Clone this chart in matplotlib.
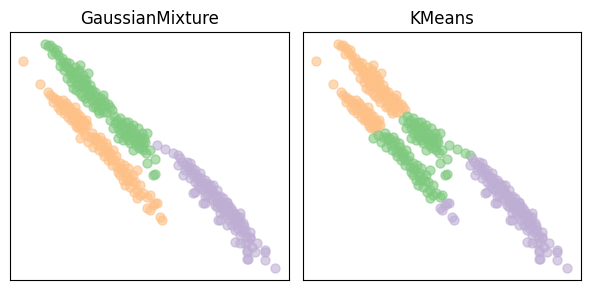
import numpy as np
import matplotlib
matplotlib.use("Agg")
import matplotlib.pyplot as plt

# point positions (x right, y down as in the image)
# each list is one piece of the data, split by which cluster each method gave it
green_gm_orange_km = [(45, 44), (48, 46), (50, 45), (53, 48), (52, 54), (57, 50), (58, 55), (62, 58),
                      (63, 63), (60, 66), (66, 62), (64, 70), (68, 68), (70, 74), (75, 67), (80, 65),
                      (78, 72), (73, 78), (77, 78), (83, 75), (88, 73), (82, 82), (86, 80), (73, 88),
                      (78, 86), (85, 88), (90, 85), (92, 90), (80, 93), (88, 94), (95, 92), (85, 98),
                      (92, 100), (98, 97), (103, 95), (100, 102), (95, 106), (105, 105), (98, 110),
                      (110, 107), (106, 112), (112, 110), (76, 82), (84, 84), (90, 96), (96, 100),
                      (72, 74), (102, 108), (88, 90), (55, 52), (60, 60), (66, 66), (70, 70), (74, 72),
                      (79, 78), (82, 86), (86, 84), (90, 90), (94, 95), (97, 104), (101, 98), (104, 101),
                      (108, 104), (67, 78), (71, 82), (76, 90), (82, 96), (87, 102), (93, 107), (99, 113),
                      (103, 112), (69, 63), (79, 70), (84, 79)]
green_gm_green_km = [(110, 120), (120, 118), (115, 123), (117, 120), (120, 125), (125, 122), (113, 128),
                     (128, 122), (122, 130), (127, 130), (130, 127), (125, 135), (132, 137), (130, 143),
                     (135, 133), (137, 137), (123, 140), (140, 142), (142, 133), (140, 137), (147, 133),
                     (145, 142), (142, 147), (143, 150), (133, 150), (143, 143), (147, 163), (155, 159),
                     (155, 174), (153, 175), (120, 133), (138, 128), (133, 125), (118, 138), (128, 140),
                     (136, 145), (146, 153), (150, 150), (114, 116), (118, 128), (124, 127), (130, 133),
                     (134, 140), (138, 141), (126, 137), (121, 123), (132, 130), (144, 138), (139, 148)]
orange_gm_orange_km = [(23, 61), (40, 84), (48, 92), (50, 95), (53, 97), (53, 102), (58, 100), (63, 100),
                       (58, 107), (62, 105), (65, 110), (68, 106), (70, 112), (75, 107), (68, 117),
                       (72, 115), (78, 118), (75, 122), (82, 120), (80, 125), (85, 125), (87, 125),
                       (78, 128), (83, 130), (60, 103), (73, 119), (55, 99), (60, 110), (64, 113),
                       (66, 103), (70, 108), (74, 112), (77, 113), (80, 116), (84, 122), (71, 120),
                       (76, 126), (81, 128), (86, 120)]
orange_gm_green_km = [(80, 138), (90, 137), (100, 137), (93, 147), (107, 147), (113, 150), (88, 142),
                      (95, 140), (98, 145), (105, 150), (110, 157), (103, 152), (108, 160), (117, 167),
                      (115, 160), (120, 163), (122, 170), (127, 173), (123, 180), (125, 185), (130, 178),
                      (137, 170), (133, 175), (130, 187), (137, 190), (137, 198), (140, 185), (143, 193),
                      (135, 182), (128, 168), (118, 172), (112, 165), (147, 197), (150, 195), (100, 143),
                      (110, 153), (120, 175), (127, 180), (85, 135), (92, 133), (96, 138), (102, 141),
                      (106, 143), (99, 150), (104, 156), (112, 160), (116, 156), (120, 168), (124, 165),
                      (126, 176), (132, 181), (134, 192), (140, 195), (108, 152), (94, 137)]
orange_gm_purple_km = [(147, 208), (155, 203), (157, 203), (160, 217), (162, 220), (153, 205), (150, 210)]
purple_gm_green_km = [(157, 145), (165, 149), (173, 153), (178, 155)]
purple_gm_purple_km = [(180, 158), (187, 162), (178, 165), (190, 170), (183, 175), (188, 167), (193, 173),
                       (193, 175), (200, 173), (195, 182), (200, 182), (203, 183), (207, 183), (203, 190),
                       (195, 192), (193, 193), (213, 193), (217, 190), (205, 203), (203, 203), (210, 197),
                       (217, 202), (223, 198), (227, 203), (227, 202), (217, 207), (230, 207), (220, 213),
                       (230, 213), (230, 215), (240, 213), (240, 217), (218, 220), (220, 220), (227, 225),
                       (237, 225), (243, 223), (243, 230), (237, 228), (250, 237), (235, 242), (240, 243),
                       (245, 243), (250, 238), (257, 243), (247, 250), (247, 252), (255, 252), (265, 250),
                       (265, 252), (247, 259), (248, 259), (265, 260), (275, 268), (185, 170), (198, 178),
                       (205, 188), (210, 190), (212, 200), (222, 208), (225, 215), (233, 218), (235, 220),
                       (207, 195), (215, 205), (198, 185), (190, 178), (208, 186), (220, 196), (228, 210),
                       (238, 222), (232, 225), (242, 232), (246, 236), (240, 235), (192, 168), (182, 162),
                       (185, 165), (190, 163), (195, 170), (197, 176), (201, 178), (205, 180), (210, 185),
                       (212, 190), (215, 195), (218, 198), (222, 202), (225, 206), (220, 205), (228, 206),
                       (232, 210), (235, 214), (233, 213), (238, 218), (240, 222), (244, 226), (235, 230),
                       (245, 230), (250, 232), (200, 188), (205, 196), (213, 185), (224, 212), (229, 220),
                       (248, 242), (252, 247)]

orange = "#fdc086"
green = "#7fc97f"
purple = "#beaed4"

# (points, colour in GaussianMixture, colour in KMeans)
pieces = [
    (green_gm_orange_km, green, orange),
    (green_gm_green_km, green, green),
    (orange_gm_orange_km, orange, orange),
    (orange_gm_green_km, orange, green),
    (orange_gm_purple_km, orange, purple),
    (purple_gm_green_km, purple, green),
    (purple_gm_purple_km, purple, purple),
]

fig = plt.figure(figsize=(5.9, 2.9), dpi=100)
ax1 = fig.add_axes([10 / 590, 10 / 290, 279 / 590, 248 / 290])
ax2 = fig.add_axes([303 / 590, 10 / 290, 278 / 590, 248 / 290])

for ax, title, which in [(ax1, "GaussianMixture", 1), (ax2, "KMeans", 2)]:
    for piece in pieces:
        pts = np.array(piece[0])
        ax.scatter(pts[:, 0], pts[:, 1], s=42, color=piece[which], alpha=0.6)
    ax.set_xlim(10, 289)
    ax.set_ylim(280, 32)
    ax.set_xticks([])
    ax.set_yticks([])
    ax.set_title(title, fontsize=12)

fig.savefig("out.png", dpi=100)
